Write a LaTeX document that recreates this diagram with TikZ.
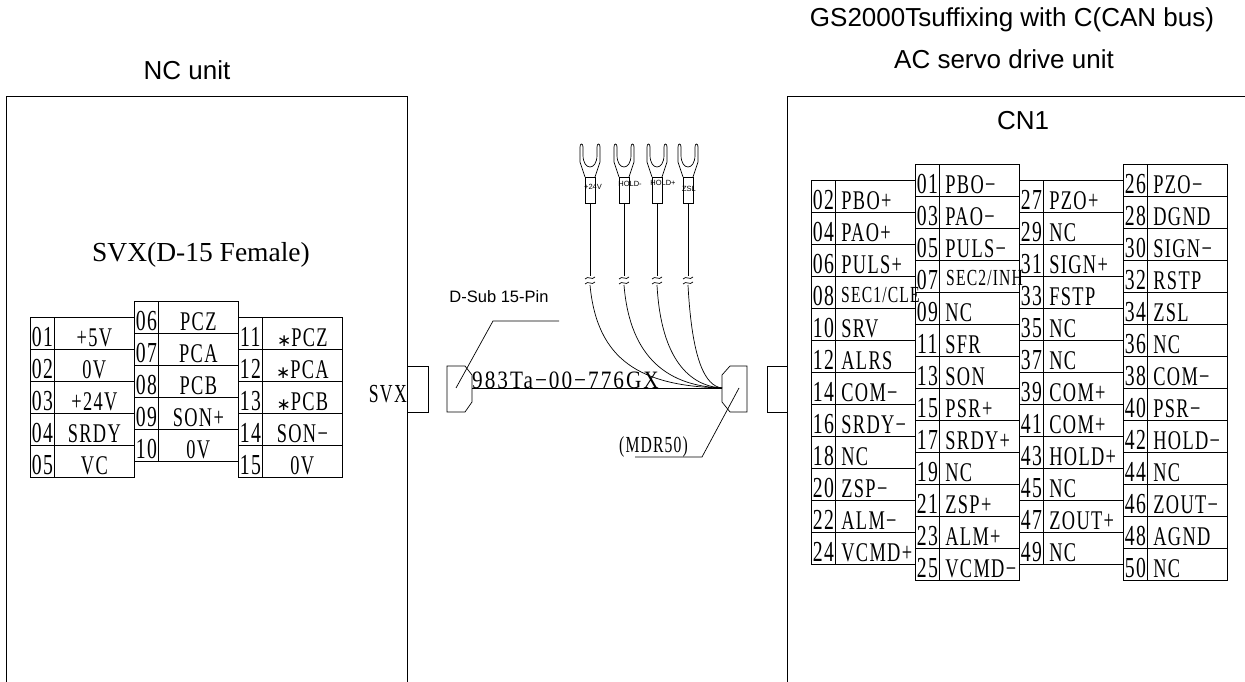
\documentclass[tikz,border=0pt]{standalone}
\usepackage{fontspec}
\setmainfont{Liberation Sans}
\newfontfamily\tblfont[FakeStretch=0.68,LetterSpace=5]{Liberation Serif}
\newfontfamily\cablefont[FakeStretch=0.85,LetterSpace=8]{Liberation Serif}
\newfontfamily\ttlfont{Liberation Serif}
\newfontfamily\astfont{DejaVu Sans}
\tikzset{
  line/.style={line width=0.7pt},
  numcell/.style={draw,line width=0.7pt,minimum width=24pt,minimum height=32pt,inner sep=0pt,anchor=north west,font=\tblfont\fontsize{29}{29}\selectfont,text height=26pt,text depth=0pt},
  sigcell/.style={numcell,minimum width=80pt,font=\tblfont\fontsize{27}{27}\selectfont},
  leftcell/.style={sigcell,align=left,text width=68pt},
  smalltext/.style={inner sep=0pt,anchor=base west,font=\tblfont\fontsize{23}{23}\selectfont},
  caption/.style={font=\fontsize{26}{26}\selectfont,inner sep=0pt},
  tiplabel/.style={font=\fontsize{7.5}{7.5}\selectfont,inner sep=0pt},
}
\newcommand{\astsign}{{\astfont\fontsize{17}{17}\selectfont ∗}}
\begin{document}
\begin{tikzpicture}[x=1pt,y=-1pt]
\useasboundingbox (0,0) rectangle (1245,682);
% cabinets
\draw [line] (6,682) -- (6,96) -- (407,96) -- (407,682);
\draw [line] (787,682) -- (787,96) -- (1245,96);
\node [caption] (ncunit) at (187,70) {NC unit};
\node [caption] (drive1) at (1012,20) {GS2000Tsuffixing with C(CAN bus)};
\node [caption] (drive2) at (1004,59) {AC servo drive unit};
\node [caption] (cn1) at (1023,121) {CN1};
\node [inner sep=0pt,font=\ttlfont\fontsize{27.5}{27.5}\selectfont] (svxtitle) at (201,255) {SVX(D-15 Female)};
% SVX table
\foreach \n/\s [count=\i from 0] in {01/+5V,02/0V,03/+24V,04/SRDY,05/VC}
  {\node [numcell] (svx\n) at (30,317+32*\i) {\n};
   \node [sigcell] (sig\n) at (54,317+32*\i) {\s};}
\foreach \n/\s [count=\i from 0] in {06/PCZ,07/PCA,08/PCB,09/SON+,10/0V}
  {\node [numcell] (svx\n) at (134,301+32*\i) {\n};
   \node [sigcell] (sig\n) at (158,301+32*\i) {\s};}
\foreach \n/\s [count=\i from 0] in {11/\astsign PCZ,12/\astsign PCA,13/\astsign PCB,14/SON−,15/0V}
  {\node [numcell] (svx\n) at (238,317+32*\i) {\n};
   \node [sigcell] (sig\n) at (262,317+32*\i) {\s};}
% CN1 table
\foreach \n/\s [count=\i from 0] in {02/PBO+,04/PAO+,06/PULS+,08/,10/SRV,12/ALRS,14/COM−,16/SRDY−,18/NC,20/ZSP−,22/ALM−,24/VCMD+}
  {\node [numcell] (cn\n) at (811,180+32*\i) {\n};
   \node [leftcell] (pin\n) at (835,180+32*\i) {\s};}
\foreach \n/\s [count=\i from 0] in {01/PBO−,03/PAO−,05/PULS−,07/,09/NC,11/SFR,13/SON,15/PSR+,17/SRDY+,19/NC,21/ZSP+,23/ALM+,25/VCMD−}
  {\node [numcell] (cn\n) at (915,164+32*\i) {\n};
   \node [leftcell] (pin\n) at (939,164+32*\i) {\s};}
\foreach \n/\s [count=\i from 0] in {27/PZO+,29/NC,31/SIGN+,33/FSTP,35/NC,37/NC,39/COM+,41/COM+,43/HOLD+,45/NC,47/ZOUT+,49/NC}
  {\node [numcell] (cn\n) at (1019,180+32*\i) {\n};
   \node [leftcell] (pin\n) at (1043,180+32*\i) {\s};}
\foreach \n/\s [count=\i from 0] in {26/PZO−,28/DGND,30/SIGN−,32/RSTP,34/ZSL,36/NC,38/COM−,40/PSR−,42/HOLD−,44/NC,46/ZOUT−,48/AGND,50/NC}
  {\node [numcell] (cn\n) at (1123,164+32*\i) {\n};
   \node [leftcell] (pin\n) at (1147,164+32*\i) {\s};}
\node [smalltext] (clelabel) at (841,302) {SEC1/CLE};
\node [smalltext] (inhlabel) at (946,285) {SEC2/INH};
% connectors and cable
\node [inner sep=0pt,font=\tblfont\fontsize{26}{26}\selectfont,anchor=base east] (svxlabel) at (407,402) {SVX};
\draw [line] (407,366) -- (428,366) -- (428,412) -- (407,412);
\draw [line] (787,366) -- (767,366) -- (767,412) -- (787,412);
\draw [line] (447,366) -- (465,366) -- (472,375) -- (472,402) -- (465,412) -- (447,412) -- cycle;
\draw [line] (747,366) -- (730,366) -- (722,375) -- (722,402) -- (730,412) -- (747,412) -- cycle;
\coordinate (plugl) at (472,388);
\coordinate (plugr) at (722,388);
\draw [line width=1pt] (plugl) -- (plugr);
\node [inner sep=0pt,anchor=base west,font=\cablefont\fontsize{25}{25}\selectfont] (cable) at (472,388) {983Ta−00−776GX};
\draw [line] (456,388) -- (493,321) -- (559,321);
\node [inner sep=0pt,font=\fontsize{16.5}{16.5}\selectfont] (dsub) at (499,297) {D-Sub 15-Pin};
\draw [line] (739,388) -- (702,457) -- (635,457);
\node [inner sep=0pt,anchor=base east,font=\tblfont\fontsize{23}{23}\selectfont] (mdr) at (688,452) {(MDR50)};
% spade terminals
\foreach \x/\lab/\lx/\ly/\cone/\ctwo in {590/+24V/593/187/597/640,624/HOLD-/630/184/630/670,657/HOLD+/663/183/661/690,688/ZSL/689/189/692/705}
  {\begin{scope}[shift={(\x,0)}]
   \draw [line] (-5,177) -- (-10,162) -- (-10,147) .. controls (-10,143) and (-7,143) .. (-7,147) -- (-7,155) .. controls (-7,171) and (7,171) .. (7,155) -- (7,147) .. controls (7,143) and (10,143) .. (10,147) -- (10,162) -- (5,177);
   \draw [line] (-5,177) rectangle (5,203);
   \draw [line] (0,203) -- (0,276);
   \draw [line] (-5,279) .. controls (-2,275) and (2,281) .. (5,277);
   \draw [line] (-5,284) .. controls (-2,280) and (2,286) .. (5,282);
   \end{scope}
   \node [tiplabel] (tip\x) at (\lx,\ly) {\lab};
   \coordinate (wire\x) at (\x,285);
   \draw [line] (wire\x) .. controls (\cone,360) and (\ctwo,386) .. (plugr);}
\end{tikzpicture}
\end{document}
